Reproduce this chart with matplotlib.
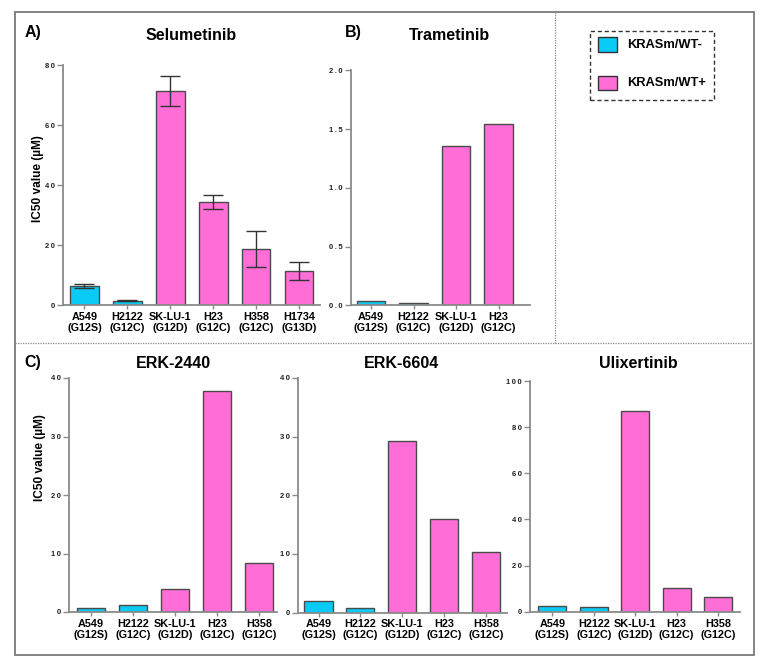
import matplotlib
matplotlib.use("Agg")
import matplotlib.pyplot as plt
from matplotlib.patches import Rectangle
from matplotlib.lines import Line2D

plt.rcParams['font.family'] = ['Liberation Sans', 'DejaVu Sans']

W, H = 766, 667
DPI = 100

# ---------------- data ----------------
group_labels = ["KRASm/WT-", "KRASm/WT+"]
colors = {"KRASm/WT-": "#0ACBF5", "KRASm/WT+": "#FF6ED6"}

sel_cells = ["A549\n(G12S)", "H2122\n(G12C)", "SK-LU-1\n(G12D)", "H23\n(G12C)", "H358\n(G12C)", "H1734\n(G13D)"]
sel_groups = ["KRASm/WT-", "KRASm/WT-", "KRASm/WT+", "KRASm/WT+", "KRASm/WT+", "KRASm/WT+"]
sel_values = [6.3, 1.4, 71.3, 34.4, 18.7, 11.3]
sel_errors = [0.7, 0.2, 5.0, 2.4, 5.9, 3.0]

tram_cells = ["A549\n(G12S)", "H2122\n(G12C)", "SK-LU-1\n(G12D)", "H23\n(G12C)"]
tram_groups = ["KRASm/WT-", "KRASm/WT-", "KRASm/WT+", "KRASm/WT+"]
tram_values = [0.034, 0.017, 1.356, 1.545]

erk_cells = ["A549\n(G12S)", "H2122\n(G12C)", "SK-LU-1\n(G12D)", "H23\n(G12C)", "H358\n(G12C)"]
erk_groups = ["KRASm/WT-", "KRASm/WT-", "KRASm/WT+", "KRASm/WT+", "KRASm/WT+"]
erk2440_values = [0.7, 1.2, 3.9, 37.7, 8.3]
erk6604_values = [1.9, 0.75, 29.2, 16.0, 10.3]
ulix_values = [2.3, 1.9, 86.8, 10.4, 6.2]

sel_ticks = [0, 20, 40, 60, 80]
tram_ticks = [0.0, 0.5, 1.0, 1.5, 2.0]
erk_ticks = [0, 10, 20, 30, 40]
ulix_ticks = [0, 20, 40, 60, 80, 100]

# ---------------- figure ----------------
fig = plt.figure(figsize=(W / DPI, H / DPI), dpi=DPI)

def fx(px):
    return px / W

def fy(py):
    return 1 - py / H

def make_axes(left, right, top, bottom):
    return fig.add_axes([fx(left), fy(bottom), fx(right) - fx(left), (bottom - top) / H])

AX_GRAY = "#8a8a8a"
EDGE = "#4a4a4a"

def spaced(s):
    return "\u2009".join(s)

def draw_panel(ax, cells, groups, values, ticks, xlim, fmt, errors=None):
    xs = list(range(len(cells)))
    ax.bar(xs, values, width=0.67, color=[colors[g] for g in groups],
           edgecolor=EDGE, linewidth=1.0, zorder=2)
    if errors is not None:
        ax.errorbar(xs, values, yerr=errors, fmt='none', ecolor="#333333",
                    elinewidth=1.0, capsize=7, capthick=1.0, zorder=3)
    ax.set_xlim(*xlim)
    ax.set_ylim(ticks[0], ticks[-1])
    ax.set_yticks(ticks)
    ax.set_yticklabels([spaced(fmt.format(t)) for t in ticks], fontsize=5.5,
                       fontweight='bold', color="#222222")
    ax.set_xticks(xs)
    ax.set_xticklabels(cells, fontsize=7.8, fontweight='bold', linespacing=1.12)
    for s in ["top", "right"]:
        ax.spines[s].set_visible(False)
    for s in ["left", "bottom"]:
        ax.spines[s].set_color(AX_GRAY)
        ax.spines[s].set_linewidth(1.3)
    ax.tick_params(axis='y', length=4, width=1.0, color=AX_GRAY, pad=2)
    ax.tick_params(axis='x', length=3, width=1.0, color=AX_GRAY, pad=2)
    ax.patch.set_alpha(0)

axA = make_axes(63.3, 320, 65, 305)
draw_panel(axA, sel_cells, sel_groups, sel_values, sel_ticks, (-0.494, 5.49), "{:.0f}", sel_errors)

axB = make_axes(350.7, 530, 70.3, 305.3)
draw_panel(axB, tram_cells, tram_groups, tram_values, tram_ticks, (-0.48, 3.74), "{:.1f}")

axC1 = make_axes(69, 277, 378, 612)
draw_panel(axC1, erk_cells, erk_groups, erk2440_values, erk_ticks, (-0.52, 4.42), "{:.0f}")

axC2 = make_axes(298, 507, 378, 612.5)
draw_panel(axC2, erk_cells, erk_groups, erk6604_values, erk_ticks, (-0.49, 4.5), "{:.0f}")

axC3 = make_axes(530, 740, 381, 611.7)
draw_panel(axC3, erk_cells, erk_groups, ulix_values, ulix_ticks, (-0.54, 4.53), "{:.0f}")

# titles / labels
title_kw = dict(fontsize=11.5, fontweight='bold', ha='center', va='center')
fig.text(fx(191), fy(35), "Selumetinib", **title_kw)
fig.text(fx(449), fy(35), "Trametinib", **title_kw)
fig.text(fx(173), fy(363), "ERK-2440", **title_kw)
fig.text(fx(402), fy(363), "ERK-6604", **title_kw)
fig.text(fx(638), fy(363), "Ulixertinib", **title_kw)
fig.text(fx(33), fy(33), "A)", **title_kw)
fig.text(fx(353), fy(33), "B)", **title_kw)
fig.text(fx(33), fy(363), "C)", **title_kw)

ylab_kw = dict(fontsize=8.6, fontweight='bold', ha='center', va='center', rotation=90)
fig.text(fx(38), fy(179), "IC50 value (µM)", **ylab_kw)
fig.text(fx(40), fy(458), "IC50 value (µM)", **ylab_kw)

# frame and dividers
fig.add_artist(Rectangle((fx(15), fy(655)), fx(754) - fx(15), (655 - 12) / H,
                         fill=False, edgecolor="#7a7a7a", linewidth=1.3,
                         transform=fig.transFigure))
fig.add_artist(Line2D([fx(15), fx(754)], [fy(343), fy(343)], color="#8a8a8a",
                      linewidth=0.9, linestyle=(0, (1, 1)), transform=fig.transFigure))
fig.add_artist(Line2D([fx(555), fx(555)], [fy(12), fy(343)], color="#8a8a8a",
                      linewidth=0.9, linestyle=(0, (1, 1)), transform=fig.transFigure))

# legend
fig.add_artist(Rectangle((fx(590), fy(100)), fx(714) - fx(590), (100 - 31) / H,
                         fill=False, edgecolor="#333333", linewidth=1.0,
                         linestyle=(0, (3, 2)), transform=fig.transFigure))
for (ytop, lab) in [(37.3, group_labels[0]), (76, group_labels[1])]:
    fig.add_artist(Rectangle((fx(597.7), fy(ytop + 14.4)), fx(617.3) - fx(597.7), 14.4 / H,
                             facecolor=colors[lab], edgecolor="#333333", linewidth=1.0,
                             transform=fig.transFigure))
    fig.text(fx(626.7), fy(ytop + 7.2), lab, fontsize=9.3, fontweight='bold',
             ha='left', va='center')

fig.savefig("out.png", dpi=DPI)
